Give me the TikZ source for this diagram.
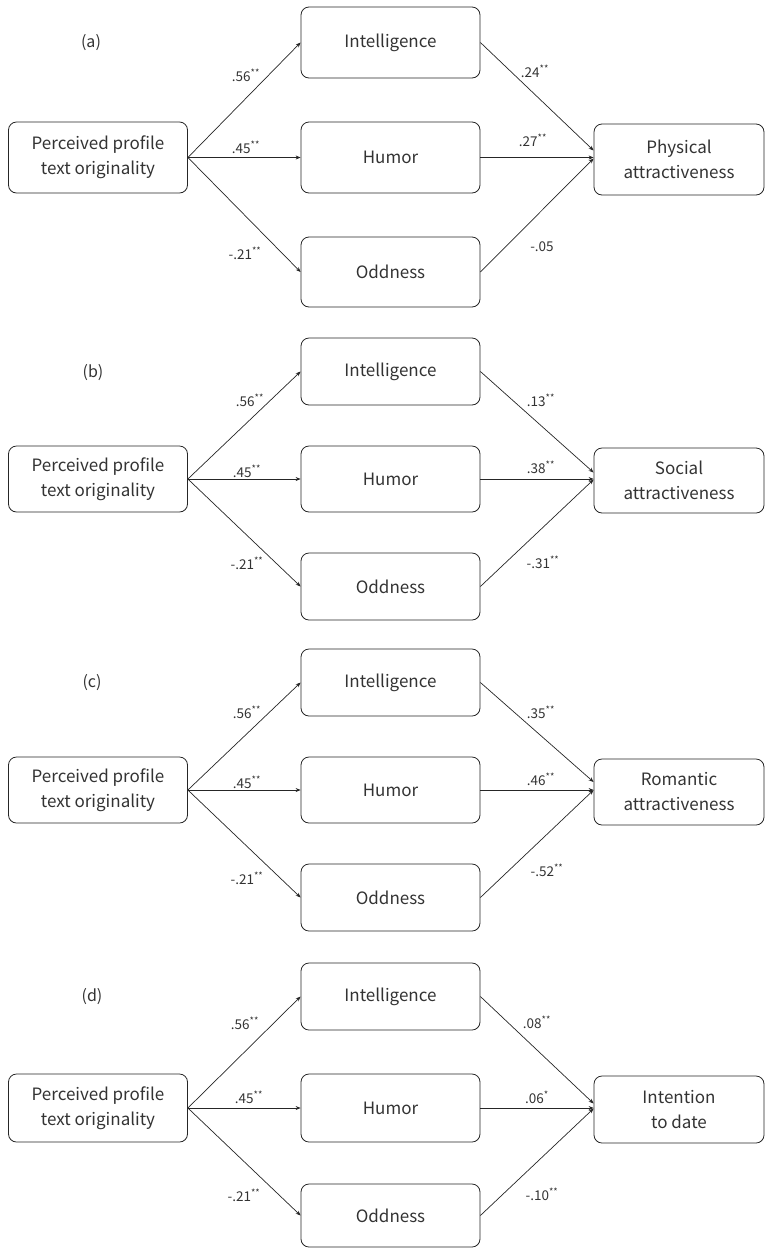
\documentclass[tikz,border=0pt]{standalone}
\usepackage{fontspec}
\setmainfont{Noto Sans CJK SC}
\usetikzlibrary{arrows.meta,calc}
\begin{document}
\begin{tikzpicture}[x=1pt,y=-1pt,
 box/.style={draw=black!85, line width=0.8pt, rounded corners=8pt, minimum width=179pt, minimum height=#1, inner sep=0pt, align=center, font=\fontsize{17}{25}\selectfont, text=black!80},
 box/.default=67pt,
 rbox/.style={box=#1, minimum width=170pt},
 lbl/.style={font=\fontsize{13.5}{15}\selectfont, text=black!80, inner sep=0pt},
 tag/.style={font=\fontsize{16}{19}\selectfont, text=black!80, inner sep=0pt},
 arr/.style={-{Stealth[length=5pt,width=4pt]}, line width=0.7pt, draw=black!85}]
\useasboundingbox (0,0) rectangle (765,1248);

% ---------- panel (a) ----------
\node[tag] (ta) at (91,43) {(a)};
\node[box=71pt] (La) at (98,157.5) {Perceived profile\\text originality};
\node[box=71pt] (Ia) at (390.5,42.5) {Intelligence};
\node[box=71pt] (Ha) at (390.5,157.5) {Humor};
\node[box=70pt] (Oa) at (390.5,272) {Oddness};
\node[rbox=71pt] (Ra) at (679,159.5) {Physical\\attractiveness};
\draw[arr] (La.east) -- (Ia.west);
\draw[arr] (La.east) -- (Ha.west);
\draw[arr] (La.east) -- (Oa.west);
\draw[arr] (Ia.east) -- ($(Ra.west)+(0,-9)$);
\draw[arr] (Ha.east) -- (Ha.east -| Ra.west);
\draw[arr] (Oa.east) -- ($(Ra.west)+(0,-1)$);
\node[lbl] (a1) at (246,75) {.56\textsuperscript{**}};
\node[lbl] (a2) at (246,147) {.45\textsuperscript{**}};
\node[lbl] (a3) at (245,253) {-.21\textsuperscript{**}};
\node[lbl] (a4) at (535,71) {.24\textsuperscript{**}};
\node[lbl] (a5) at (533,140) {.27\textsuperscript{**}};
\node[lbl] (a6) at (542,247) {-.05};

% ---------- panel (b) ----------
\node[tag] (tb) at (93,373) {(b)};
\node[box=66pt] (Lb) at (98,479) {Perceived profile\\text originality};
\node[box=67pt] (Ib) at (390.5,371.5) {Intelligence};
\node[box=66pt] (Hb) at (390.5,479) {Humor};
\node[box=67pt] (Ob) at (390.5,586.5) {Oddness};
\node[rbox=65pt] (Rb) at (679,480.5) {Social\\attractiveness};
\draw[arr] (Lb.east) -- (Ib.west);
\draw[arr] (Lb.east) -- (Hb.west);
\draw[arr] (Lb.east) -- (Ob.west);
\draw[arr] (Ib.east) -- ($(Rb.west)+(0,-8)$);
\draw[arr] (Hb.east) -- (Hb.east -| Rb.west);
\draw[arr] (Ob.east) -- ($(Rb.west)+(0,-1)$);
\node[lbl] (b1) at (250,400) {.56\textsuperscript{**}};
\node[lbl] (b2) at (247,471) {.45\textsuperscript{**}};
\node[lbl] (b3) at (247,563) {-.21\textsuperscript{**}};
\node[lbl] (b4) at (541,400) {.13\textsuperscript{**}};
\node[lbl] (b5) at (541,467) {.38\textsuperscript{**}};
\node[lbl] (b6) at (543,562) {-.31\textsuperscript{**}};

% ---------- panel (c) ----------
\node[tag] (tc) at (92,683) {(c)};
\node[box=66pt] (Lc) at (98,790) {Perceived profile\\text originality};
\node[box=67pt] (Ic) at (390.5,682.5) {Intelligence};
\node[box=66pt] (Hc) at (390.5,790) {Humor};
\node[box=67pt] (Oc) at (390.5,897.5) {Oddness};
\node[rbox=66pt] (Rc) at (679,792) {Romantic\\attractiveness};
\draw[arr] (Lc.east) -- (Ic.west);
\draw[arr] (Lc.east) -- (Hc.west);
\draw[arr] (Lc.east) -- (Oc.west);
\draw[arr] (Ic.east) -- ($(Rc.west)+(0,-10)$);
\draw[arr] (Hc.east) -- (Hc.east -| Rc.west);
\draw[arr] (Oc.east) -- ($(Rc.west)+(0,-2)$);
\node[lbl] (c1) at (247,712) {.56\textsuperscript{**}};
\node[lbl] (c2) at (247,782) {.45\textsuperscript{**}};
\node[lbl] (c3) at (247,878) {-.21\textsuperscript{**}};
\node[lbl] (c4) at (541,712) {.35\textsuperscript{**}};
\node[lbl] (c5) at (541,779) {.46\textsuperscript{**}};
\node[lbl] (c6) at (547,870) {-.52\textsuperscript{**}};

% ---------- panel (d) ----------
\node[tag] (td) at (92,997) {(d)};
\node[box=68pt] (Ld) at (98,1108) {Perceived profile\\text originality};
\node[box=67pt] (Id) at (390.5,996.5) {Intelligence};
\node[box=68pt] (Hd) at (390.5,1108) {Humor};
\node[box=63pt] (Od) at (390.5,1215.5) {Oddness};
\node[rbox=67pt] (Rd) at (679,1109.5) {Intention\\to date};
\draw[arr] (Ld.east) -- (Id.west);
\draw[arr] (Ld.east) -- (Hd.west);
\draw[arr] (Ld.east) -- (Od.west);
\draw[arr] (Id.east) -- ($(Rd.west)+(0,-6)$);
\draw[arr] (Hd.east) -- (Hd.east -| Rd.west);
\draw[arr] (Od.east) -- ($(Rd.west)+(0,-1)$);
\node[lbl] (d1) at (245,1023) {.56\textsuperscript{**}};
\node[lbl] (d2) at (249,1097) {.45\textsuperscript{**}};
\node[lbl] (d3) at (244,1195) {-.21\textsuperscript{**}};
\node[lbl] (d4) at (537,1022) {.08\textsuperscript{**}};
\node[lbl] (d5) at (537,1097) {.06\textsuperscript{*}};
\node[lbl] (d6) at (542,1194) {-.10\textsuperscript{**}};
\end{tikzpicture}
\end{document}
